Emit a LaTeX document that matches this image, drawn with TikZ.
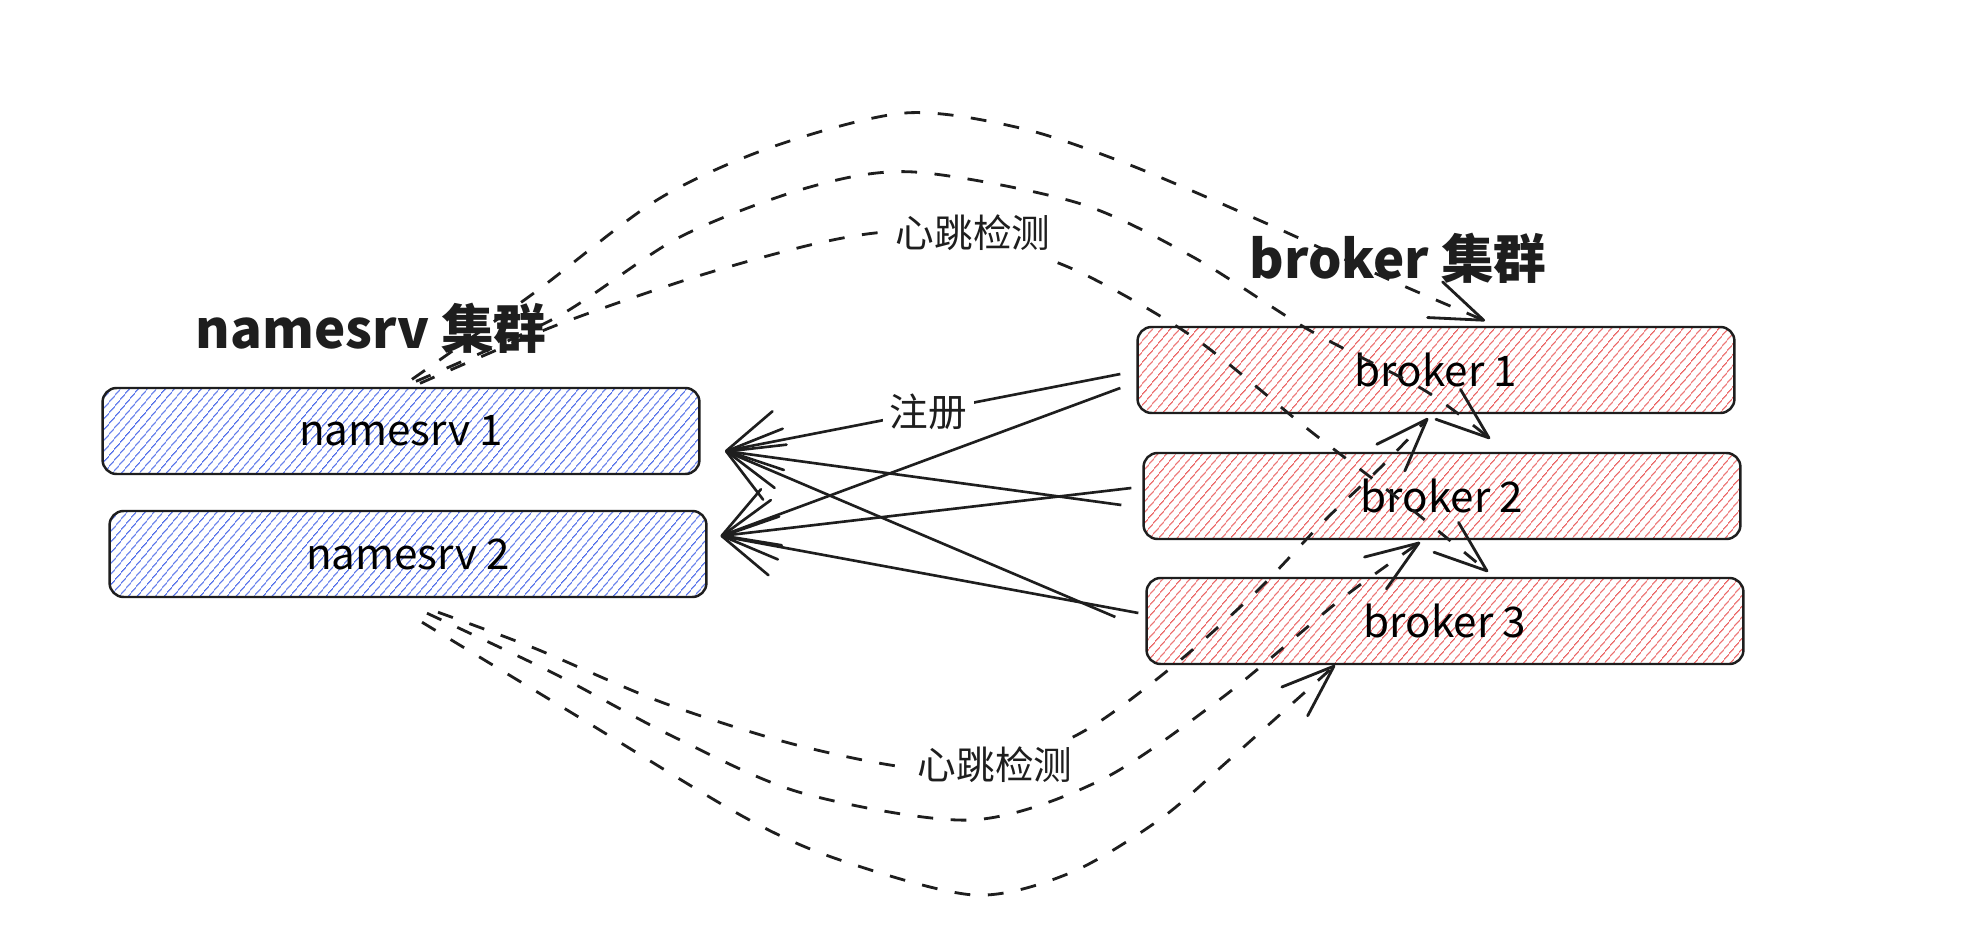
\documentclass[tikz,border=0pt]{standalone}
\usepackage{fontspec}
\setmainfont{Noto Sans CJK SC}
\usetikzlibrary{arrows.meta,calc,patterns.meta}
\definecolor{nsblue}{HTML}{4C6AE8}
\definecolor{brred}{HTML}{EA5F5F}
\definecolor{ink}{HTML}{1E1E1E}

\begin{document}
\begin{tikzpicture}[x=0.02cm,y=-0.02cm,
    box/.style={draw=ink,line width=1.4pt,rounded corners=8pt,
      minimum width=11.94cm,minimum height=1.72cm,
      font=\fontsize{24}{28}\selectfont},
    nsbox/.style={box,pattern={Lines[angle=50,distance=4pt,line width=0.75pt]},pattern color=nsblue},
    brbox/.style={box,pattern={Lines[angle=50,distance=4pt,line width=0.75pt]},pattern color=brred},
    grouptitle/.style={font=\fontsize{30}{34}\selectfont\bfseries,text=ink},
    linklabel/.style={fill=white,inner sep=4pt,text=ink,font=\fontsize{22}{26}\selectfont},
    regarrow/.style={draw=ink,line width=1.5pt,-{Straight Barb[round,length=30pt,width=34pt]}},
    beat/.style={draw=ink,line width=1.6pt,dash pattern=on 9pt off 10pt,
      -{Straight Barb[round,length=30pt,width=22pt]}}]

  \path[use as bounding box,fill=white] (0,0) rectangle (1984,942);

  % the two clusters
  \node[nsbox] (ns1) at (401,431) {namesrv 1};
  \node[nsbox] (ns2) at (408,554) {namesrv 2};
  \node[brbox] (b1) at (1436,370) {broker 1};
  \node[brbox] (b2) at (1442,496) {broker 2};
  \node[brbox] (b3) at (1445,621) {broker 3};

  \node[grouptitle] (nstitle) at (371,328) {namesrv 集群};
  \node[grouptitle] (brtitle) at (1398,258) {broker 集群};

  % ends of the connectors
  \coordinate (ns1in) at ($(ns1.east)+(25,20)$);
  \coordinate (ns2in) at ($(ns2.east)+(13,-18)$);
  \coordinate (b1a) at ($(b1.west)+(-16,4)$);
  \coordinate (b1b) at ($(b1.west)+(-16,18)$);
  \coordinate (b2a) at ($(b2.west)+(-11,-8)$);
  \coordinate (b2b) at ($(b2.west)+(-21,9)$);
  \coordinate (b3a) at ($(b3.west)+(-30,-4)$);
  \coordinate (b3b) at ($(b3.west)+(-7,-8)$);

  \coordinate (nsA) at ($(ns1.north)+(11,-8)$);
  \coordinate (nsB) at ($(ns1.north)+(15,-6)$);
  \coordinate (nsC) at ($(ns1.north)+(19,-4)$);
  \coordinate (nsD) at ($(ns2.south)+(30,14)$);
  \coordinate (nsE) at ($(ns2.south)+(19,15)$);
  \coordinate (nsF) at ($(ns2.south)+(14,24)$);
  \coordinate (b1top) at ($(b1.north)+(49,-5)$);
  \coordinate (b2top) at ($(b2.north)+(48,-13)$);
  \coordinate (b3top) at ($(b3.north)+(43,-5)$);
  \coordinate (b1bot) at ($(b1.south)+(-8,4)$);
  \coordinate (b2bot) at ($(b2.south)+(-22,2)$);
  \coordinate (b3bot) at ($(b3.south)+(-110,0)$);

  % heartbeat, upper side
  \draw[beat] plot[smooth] coordinates {(nsA) (534,293) (657,200) (772,147) (905,113)
    (1020,128) (1130,165) (1270,225) (1390,280) (b1top)};
  \draw[beat] plot[smooth] coordinates {(nsB) (557,317) (680,237) (810,187) (914,172)
    (1078,203) (1193,257) (1309,330) (1424,390) (b2top)};
  \draw[beat] plot[smooth] coordinates {(nsC) (557,325) (695,277) (810,245) (887,232)
    (970,236) (1075,270) (1193,337) (1309,430) (1400,500) (b3top)};

  % heartbeat, lower side
  \draw[beat] plot[smooth] coordinates {(nsD) (534,648) (661,702) (789,743) (904,767)
    (995,768) (1086,730) (1172,667) (1255,593) (1323,522) (1380,468) (b1bot)};
  \draw[beat] plot[smooth] coordinates {(nsE) (553,673) (674,737) (802,793) (971,820)
    (1101,780) (1223,697) (1340,600) (b2bot)};
  \draw[beat] plot[smooth] coordinates {(nsF) (572,713) (744,817) (840,860) (974,895)
    (1070,873) (1159,820) (1229,760) (b3bot)};

  % registration
  \draw[regarrow] (b1a) -- node[linklabel,pos=0.486] (reglabel) {注册} (ns1in);
  \foreach \src/\dst in {b1b/ns2in,b2a/ns2in,b2b/ns1in,b3a/ns1in,b3b/ns2in} {
    \draw[regarrow] (\src) -- (\dst);
  }

  \node[linklabel] (beattop) at (973,233) {心跳检测};
  \node[linklabel] (beatbot) at (995,765) {心跳检测};
\end{tikzpicture}
\end{document}
